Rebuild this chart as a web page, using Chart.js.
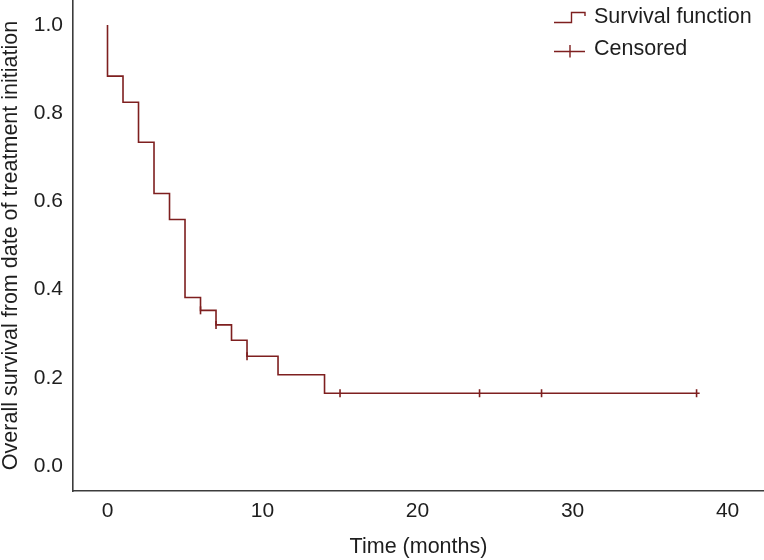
<!DOCTYPE html>
<html>
<head>
<meta charset="utf-8">
<title>Overall survival</title>
<script src="https://cdn.jsdelivr.net/npm/chart.js@4.4.1/dist/chart.umd.min.js"></script>
<style>
    body { margin: 0; background: #fff; }
    #wrap { width: 764px; height: 560px; }
</style>
</head>
<body>
<div id="wrap"><canvas id="kmChart" width="764" height="560"></canvas></div>
<script>
// Kaplan-Meier steps (time in months, survival after the drop)
const stepTimes = [0, 0, 1, 2, 3, 4, 5, 6, 7, 8, 9, 11, 14, 38.2];
const survival = [1.0, 0.884, 0.825, 0.734, 0.618, 0.559, 0.382, 0.353, 0.320, 0.285, 0.249, 0.207, 0.165, 0.165];

// censored observations
const censorTimes = [6, 7, 9, 15, 24, 28, 38];
const censorSurvival = [0.353, 0.320, 0.249, 0.165, 0.165, 0.165, 0.165];

const xTicks = [0, 10, 20, 30, 40];
const yTicks = [0.0, 0.2, 0.4, 0.6, 0.8, 1.0];

const legendLabels = ['Survival function', 'Censored'];

const lineColor = '#7e1f1f';
const axisColor = '#3c3c3c';
const textColor = '#1e1e1e';
const fontFamily = '"Liberation Sans", Arial, Helvetica, sans-serif';

// no extra room for labels at the ends, the plot fills the canvas top/right
function noPadding(scale) {
    scale.paddingTop = 0;
    scale.paddingBottom = 0;
    scale.paddingLeft = 0;
    scale.paddingRight = 0;
}

// legend drawn inside the plot, top right
const kmLegend = {
    id: 'kmLegend',
    afterDraw(chart) {
        const ctx = chart.ctx;
        ctx.save();
        ctx.strokeStyle = lineColor;
        ctx.lineWidth = 1.4;

        // step icon
        ctx.beginPath();
        ctx.moveTo(554, 22.5);
        ctx.lineTo(571.5, 22.5);
        ctx.lineTo(571.5, 12.5);
        ctx.lineTo(585, 12.5);
        ctx.lineTo(585, 16);
        ctx.stroke();

        // censor icon
        ctx.beginPath();
        ctx.moveTo(554, 51.5);
        ctx.lineTo(585, 51.5);
        ctx.moveTo(570, 45);
        ctx.lineTo(570, 57.5);
        ctx.stroke();

        ctx.fillStyle = textColor;
        ctx.font = '21.5px ' + fontFamily;
        ctx.textAlign = 'left';
        ctx.textBaseline = 'alphabetic';
        ctx.fillText(legendLabels[0], 594, 23);
        ctx.fillText(legendLabels[1], 594, 55);
        ctx.restore();
    }
};

new Chart(document.getElementById('kmChart'), {
    type: 'line',
    data: {
        datasets: [{
            label: legendLabels[0],
            data: stepTimes.map((t, i) => ({ x: t, y: survival[i] })),
            borderColor: lineColor,
            borderWidth: 1.6,
            stepped: 'before',
            pointRadius: 0,
            fill: false
        }, {
            label: legendLabels[1],
            data: censorTimes.map((t, i) => ({ x: t, y: censorSurvival[i] })),
            showLine: false,
            pointStyle: 'line',
            rotation: 90,
            pointRadius: 4,
            pointBorderWidth: 1.6,
            borderColor: lineColor,
            backgroundColor: lineColor
        }]
    },
    options: {
        responsive: false,
        animation: false,
        layout: { padding: 0, autoPadding: false },
        plugins: {
            legend: { display: false },
            tooltip: { enabled: false }
        },
        scales: {
            x: {
                type: 'linear',
                min: -2.226,
                max: 42.35,
                afterBuildTicks: scale => { scale.ticks = xTicks.map(v => ({ value: v })); },
                afterFit: scale => { scale.height = 69; noPadding(scale); },
                grid: { display: false, drawTicks: false },
                border: { display: true, color: axisColor, width: 1.6 },
                ticks: {
                    padding: 8,
                    color: textColor,
                    font: { family: fontFamily, size: 21 },
                    maxRotation: 0
                },
                title: {
                    display: true,
                    text: 'Time (months)',
                    color: textColor,
                    font: { family: fontFamily, size: 21.5 },
                    padding: { top: 0, bottom: 0 }
                }
            },
            y: {
                type: 'linear',
                min: -0.0567,
                max: 1.0567,
                afterBuildTicks: scale => { scale.ticks = yTicks.map(v => ({ value: v })); },
                afterFit: scale => { scale.width = 73; noPadding(scale); },
                grid: { display: false, drawTicks: false },
                border: { display: true, color: axisColor, width: 1.6 },
                ticks: {
                    padding: 10,
                    color: textColor,
                    font: { family: fontFamily, size: 21 },
                    callback: v => v.toFixed(1)
                },
                title: {
                    display: true,
                    text: 'Overall survival from date of treatment initiation',
                    color: textColor,
                    font: { family: fontFamily, size: 21.5, lineHeight: 1 },
                    padding: { top: 0, bottom: 0 }
                }
            }
        }
    },
    plugins: [kmLegend]
});
</script>
</body>
</html>
